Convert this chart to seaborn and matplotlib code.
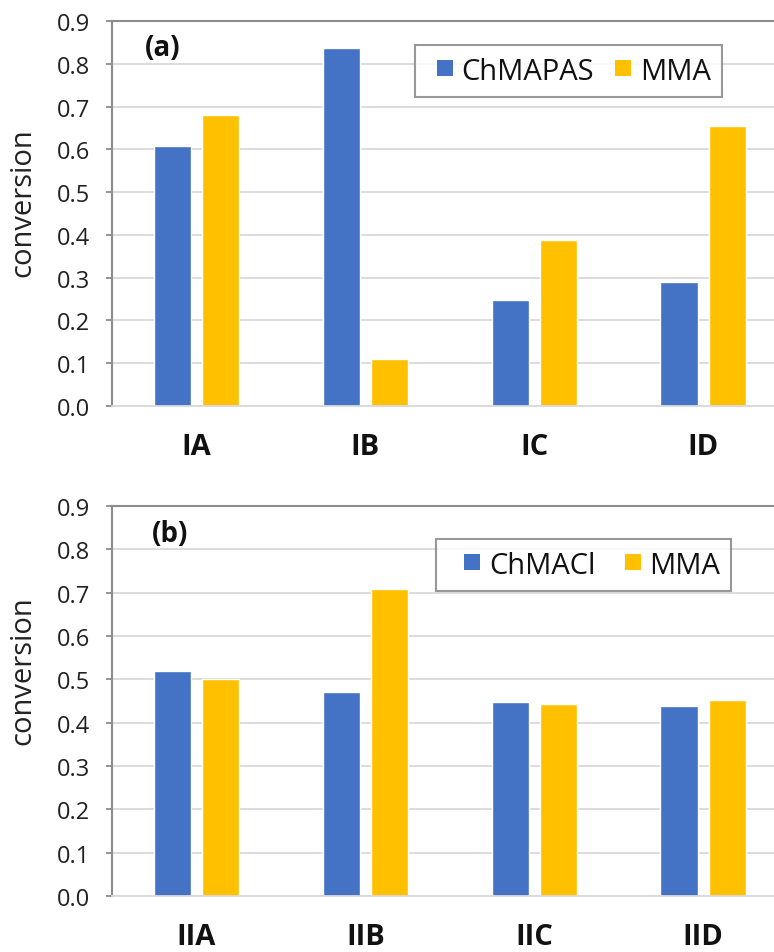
import matplotlib
matplotlib.use("Agg")
import matplotlib.pyplot as plt
from matplotlib.lines import Line2D
import seaborn as sns
import pandas as pd

# Conversion data for the two monomer systems
cats_a = ["IA", "IB", "IC", "ID"]
chmapas = [0.608, 0.838, 0.248, 0.289]
mma_a = [0.680, 0.110, 0.388, 0.654]

cats_b = ["IIA", "IIB", "IIC", "IID"]
chmacl = [0.520, 0.471, 0.448, 0.438]
mma_b = [0.501, 0.708, 0.443, 0.453]

y_ticks = [0.0, 0.1, 0.2, 0.3, 0.4, 0.5, 0.6, 0.7, 0.8, 0.9]

BLUE = "#4472C4"
GOLD = "#FFC000"
GRID = "#D9D9D9"
SPINE = "#8C8C8C"

sns.set_theme(style="white")
plt.rcParams["font.family"] = ["Open Sans", "DejaVu Sans"]


def long_form(cats, first_name, first_vals, second_vals):
    rows = []
    for c, v in zip(cats, first_vals):
        rows.append({"sample": c, "monomer": first_name, "conversion": v})
    for c, v in zip(cats, second_vals):
        rows.append({"sample": c, "monomer": "MMA", "conversion": v})
    return pd.DataFrame(rows)


W, H = 774, 953
fig = plt.figure(figsize=(W / 100, H / 100), dpi=100)


def px_axes(left, top, right, bottom):
    return fig.add_axes([left / W, 1 - bottom / H, (right - left) / W, (bottom - top) / H])


def draw_panel(ax, df, first_name, tag, legend_xy, label_y, tag_xy, leg_style):
    sns.barplot(data=df, x="sample", y="conversion", hue="monomer",
                hue_order=[first_name, "MMA"], palette=[BLUE, GOLD],
                width=0.57, gap=0.23, ax=ax, saturation=1, errorbar=None)
    ax.set_ylim(0, 0.9)
    ax.set_xlim(-0.5, 3.42)
    ax.set_yticks(y_ticks)
    ax.set_yticklabels([f"{t:.1f}" for t in y_ticks])
    ax.yaxis.grid(True, color=GRID, linewidth=1.3)
    ax.set_axisbelow(True)
    ax.spines["right"].set_visible(False)
    ax.spines["left"].set_color(SPINE)
    ax.spines["left"].set_linewidth(1.5)
    ax.spines["top"].set_color(SPINE)
    ax.spines["top"].set_linewidth(1.5)
    ax.spines["bottom"].set_color(GRID)
    ax.spines["bottom"].set_linewidth(1.3)
    ax.tick_params(axis="y", which="major", left=True, length=4, width=1.3,
                   color=SPINE, pad=12, labelsize=17, labelcolor="#222222")
    ax.tick_params(axis="x", length=0, pad=18.5, labelsize=21, labelcolor="#111111")
    for lab in ax.get_xticklabels():
        lab.set_fontweight("bold")
    ax.set_xlabel("")
    ax.set_ylabel("conversion", fontsize=21, color="#222222")
    ax.yaxis.set_label_coords(-0.112, label_y)
    ax.text(tag_xy[0], tag_xy[1], tag, transform=ax.transAxes, fontsize=20,
            fontweight="bold", color="#111111", va="center", ha="left")

    # square swatches for the legend, coloured like the bars
    handles, labels = ax.get_legend_handles_labels()
    swatches = [Line2D([], [], linestyle="none", marker="s", markersize=12.2,
                       markerfacecolor=h.get_facecolor(), markeredgewidth=0)
                for h in handles]
    hl, htp, cs = leg_style
    leg = ax.legend(swatches, labels, loc="upper left", bbox_to_anchor=legend_xy,
                    ncol=2, fontsize=21, frameon=True, fancybox=False,
                    handlelength=hl, handletextpad=htp, columnspacing=cs,
                    borderpad=0.4, borderaxespad=0)
    leg.get_frame().set_edgecolor("#7F7F7F")
    leg.get_frame().set_linewidth(1.5)
    for t in leg.get_texts():
        t.set_color("#111111")


ax1 = px_axes(112, 22, 774, 407)
draw_panel(ax1, long_form(cats_a, "ChMAPAS", chmapas, mma_a), "ChMAPAS", "(a)",
           ((415 - 112) / 662, (407 - 46) / 385), 0.53, (0.05, (407 - 49) / 385),
           (1.23, -0.05, 0.4))

ax2 = px_axes(112, 507, 774, 897)
draw_panel(ax2, long_form(cats_b, "ChMACl", chmacl, mma_b), "ChMACl", "(b)",
           ((436 - 112) / 662, (897 - 540) / 390), 0.58, (0.06, (897 - 535) / 390),
           (1.7, -0.29, 0.43))

fig.savefig("out.png", dpi=100)
